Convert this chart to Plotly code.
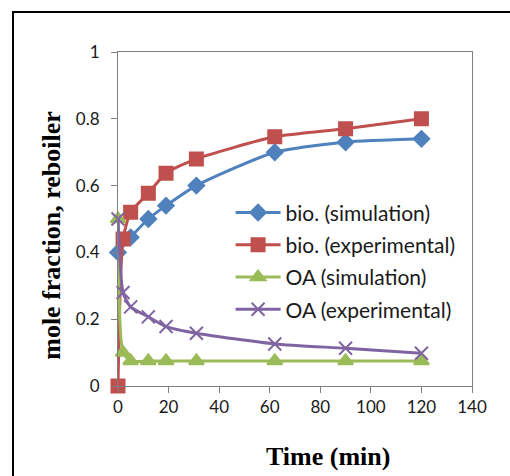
import plotly.graph_objects as go

# Sampling times (min) and mole fractions in the reboiler
time_min = [0, 2, 5, 12, 19, 31, 62, 90, 120]
bio_sim = [0.40, 0.445, 0.50, 0.54, 0.60, 0.70, 0.73, 0.74]
bio_sim_time = [0, 5, 12, 19, 31, 62, 90, 120]
bio_exp = [0.0, 0.44, 0.52, 0.577, 0.637, 0.68, 0.746, 0.77, 0.80]
oa_sim = [0.50, 0.10, 0.075, 0.075, 0.075, 0.075, 0.075, 0.075, 0.075]
oa_exp = [0.50, 0.28, 0.237, 0.207, 0.178, 0.158, 0.126, 0.113, 0.098]

x_ticks = [0, 20, 40, 60, 80, 100, 120, 140]
y_ticks = [0, 0.2, 0.4, 0.6, 0.8, 1]
y_tick_text = ["0", "0.2", "0.4", "0.6", "0.8", "1"]

series = [
    ("bio. (simulation)", bio_sim_time, bio_sim, "#4F81BD", "diamond", 12),
    ("bio. (experimental)", time_min, bio_exp, "#C0504D", "square", 13),
    ("OA (simulation)", time_min, oa_sim, "#9BBB59", "triangle-up", 13),
    ("OA (experimental)", time_min, oa_exp, "#8064A2", "x-thin", 13),
]

fig = go.Figure()
for i, (name, xs, ys, color, symbol, size) in enumerate(series):
    fig.add_trace(go.Scatter(
        x=xs, y=ys, name=name, mode="lines+markers", legendgroup=f"g{i}",
        cliponaxis=False,
        line=dict(color=color, width=3, shape="spline", smoothing=0.6),
        marker=dict(symbol=symbol, size=size, color=color,
                    line=dict(color=color, width=2)),
    ))

axis_font = dict(family="Lato, Open Sans, sans-serif", size=17, color="#1a1a1a")
fig.update_xaxes(
    range=[0, 140], tickvals=x_ticks, showgrid=False, zeroline=False,
    showline=True, linecolor="#808080", linewidth=1, mirror=True,
    ticks="outside", ticklen=6, tickcolor="#808080", tickfont=axis_font,
)
fig.update_yaxes(
    range=[0, 1], tickvals=y_ticks, ticktext=y_tick_text, showgrid=False,
    zeroline=False, showline=True, linecolor="#808080", linewidth=1,
    mirror=True, ticks="outside", ticklen=6, tickcolor="#808080",
    tickfont=axis_font, ticklabelstandoff=8,
)

title_font = dict(family="Liberation Serif, Times New Roman, serif",
                  size=26, color="#000000")
fig.add_annotation(text="<b>Time (min)</b>", xref="paper", yref="paper",
                   x=0.593, y=-0.21, showarrow=False, font=title_font,
                   xanchor="center", yanchor="middle")
fig.add_annotation(text="<b>mole fraction, reboiler</b>", xref="paper",
                   yref="paper", x=-0.19, y=0.452, textangle=-90,
                   showarrow=False, font=title_font,
                   xanchor="center", yanchor="middle")

# chart-area frame
fig.add_shape(type="rect", xref="paper", yref="paper",
              x0=-0.2966, x1=1.6, y0=-0.5, y1=1.1198,
              line=dict(color="#000000", width=2), layer="below")

fig.update_layout(
    width=510, height=476,
    margin=dict(l=118, r=38, t=52, b=90),
    paper_bgcolor="white", plot_bgcolor="white",
    showlegend=True,
    legend=dict(x=0.318, y=0.58, xanchor="left", yanchor="top",
                bgcolor="rgba(0,0,0,0)", traceorder="grouped",
                tracegroupgap=2, itemwidth=45,
                font=dict(family="Lato, Open Sans, sans-serif", size=21,
                          color="#1a1a1a")),
)

fig.write_html("out.html")
